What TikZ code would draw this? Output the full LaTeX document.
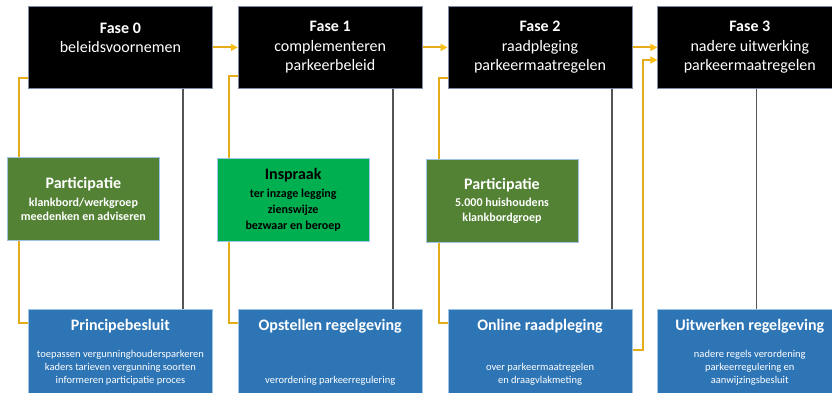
\documentclass[tikz,border=0pt]{standalone}
\usepackage{fontspec}
\setmainfont{Carlito}
\usetikzlibrary{arrows.meta, positioning, backgrounds, calc}
\definecolor{randgrijs}{RGB}{125,140,165}
\definecolor{randblauw}{RGB}{157,195,230}
\definecolor{partgroen}{RGB}{84,130,53}
\definecolor{inspraakgroen}{RGB}{0,176,80}
\definecolor{besluitblauw}{RGB}{46,117,182}
\definecolor{lijngeel}{RGB}{228,172,25}
\definecolor{pijlgeel}{RGB}{250,190,20}
\definecolor{lijngrijs}{RGB}{85,85,85}

\begin{document}
\begin{tikzpicture}[
  node distance=25pt,
  fase/.style={draw=randgrijs, line width=0.8pt, fill=black, text=white,
               minimum width=184pt, minimum height=82pt, inner sep=0pt,
               align=center, font=\fontsize{16}{19.5}\selectfont},
  part/.style={draw=randblauw, line width=0.8pt, fill=partgroen, text=white,
               minimum width=152pt, minimum height=83pt, inner sep=0pt,
               align=center, font=\fontsize{12}{14.5}\selectfont\bfseries},
  besluit/.style={draw=randblauw, line width=0.8pt, fill=besluitblauw,
                  minimum width=184pt, minimum height=84pt, inner sep=0pt},
  besluitkop/.style={text=white, inner sep=0pt,
                     font=\fontsize{16}{19.5}\selectfont\bfseries},
  besluittekst/.style={text=white, inner sep=0pt, align=center, anchor=south,
                       font=\fontsize{10.5}{13}\selectfont},
  geel/.style={draw=lijngeel, line width=2pt},
  pijl/.style={geel, -{Triangle[length=7pt, width=7pt, color=pijlgeel]}},
  grijs/.style={draw=lijngrijs, line width=1.8pt}
]
  \useasboundingbox (0,0) rectangle (832pt,-392pt);

  % fasen
  \node[fase, anchor=north west] (f0) at (28pt,-6pt)
    {\textbf{Fase 0}\\beleidsvoornemen\\\phantom{x}};
  \node[fase, right=of f0] (f1) {\textbf{Fase 1}\\complementeren\\parkeerbeleid};
  \node[fase, right=of f1] (f2) {\textbf{Fase 2}\\raadpleging\\parkeermaatregelen};
  \node[fase, right=of f2] (f3) {\textbf{Fase 3}\\nadere uitwerking\\parkeermaatregelen};

  % participatie / inspraak
  \node[part, below right=68pt and -21pt of f0.south west] (g0)
    {{\fontsize{16}{19.5}\selectfont Participatie}\\[3.5pt]
     klankbord/werkgroep\\meedenken en adviseren};
  \node[part, fill=inspraakgroen, text=black,
        below right=69pt and -21pt of f1.south west] (g1)
    {{\fontsize{16}{19.5}\selectfont Inspraak}\\[3pt]
     ter inzage legging\\[1.5pt]zienswijze\\[1.5pt]bezwaar en beroep};
  \node[part, below right=70pt and -22pt of f2.south west] (g2)
    {{\fontsize{16}{19.5}\selectfont Participatie}\\[3pt]
     5.000 huishoudens\\klankbordgroep};

  % besluiten
  \node[besluit, below=220pt of f0] (b0) {};
  \node[besluit, below=220pt of f1] (b1) {};
  \node[besluit, below=220pt of f2] (b2) {};
  \node[besluit, below=220pt of f3] (b3) {};

  \node[besluitkop] (k0) at ([yshift=-17pt]b0.north) {Principebesluit};
  \node[besluitkop] (k1) at ([yshift=-17pt]b1.north) {Opstellen regelgeving};
  \node[besluitkop] (k2) at ([yshift=-17pt]b2.north) {Online raadpleging};
  \node[besluitkop] (k3) at ([yshift=-17pt]b3.north) {Uitwerken regelgeving};

  \node[besluittekst] (t0) at ([yshift=8pt]b0.south)
    {toepassen vergunninghoudersparkeren\\kaders tarieven vergunning soorten\\informeren participatie proces};
  \node[besluittekst] (t1) at ([yshift=8pt]b1.south) {verordening parkeerregulering};
  \node[besluittekst] (t2) at ([yshift=8pt]b2.south)
    {over parkeermaatregelen\\en draagvlakmeting};
  \node[besluittekst] (t3) at ([yshift=8pt]b3.south)
    {nadere regels verordening\\parkeerregulering en\\aanwijzingsbesluit};

  % verbindingen
  \begin{scope}[on background layer]
    \draw[pijl] (f0) -- (f1);
    \draw[pijl] (f1) -- (f2);
    \draw[pijl] (f2) -- (f3);
    \draw[geel] ([yshift=11pt]f0.south west) -- ++(-9pt,0) |- ([yshift=-14pt]b0.north west);
    \draw[geel] ([yshift=13pt]f1.south west) -- ++(-9pt,0) |- ([yshift=-14pt]b1.north west);
    \draw[geel] ([yshift=11pt]f2.south west) -- ++(-9pt,0) |- ([yshift=-14pt]b2.north west);
    \draw[pijl] ([yshift=-41pt]b2.north east) -- ++(11pt,0) |- ([yshift=-54pt]f3.north west);
    \draw[grijs] ([xshift=155pt]f0.south west) -- ([xshift=155pt]f0.south west |- b0.north);
    \draw[grijs] ([xshift=155pt]f1.south west) -- ([xshift=155pt]f1.south west |- b1.north);
    \draw[grijs] ([xshift=164pt]f2.south west) -- ([xshift=164pt]f2.south west |- b2.north);
    \draw[grijs] ([xshift=99pt]f3.south west) -- ([xshift=99pt]f3.south west |- b3.north);
  \end{scope}
\end{tikzpicture}
\end{document}
